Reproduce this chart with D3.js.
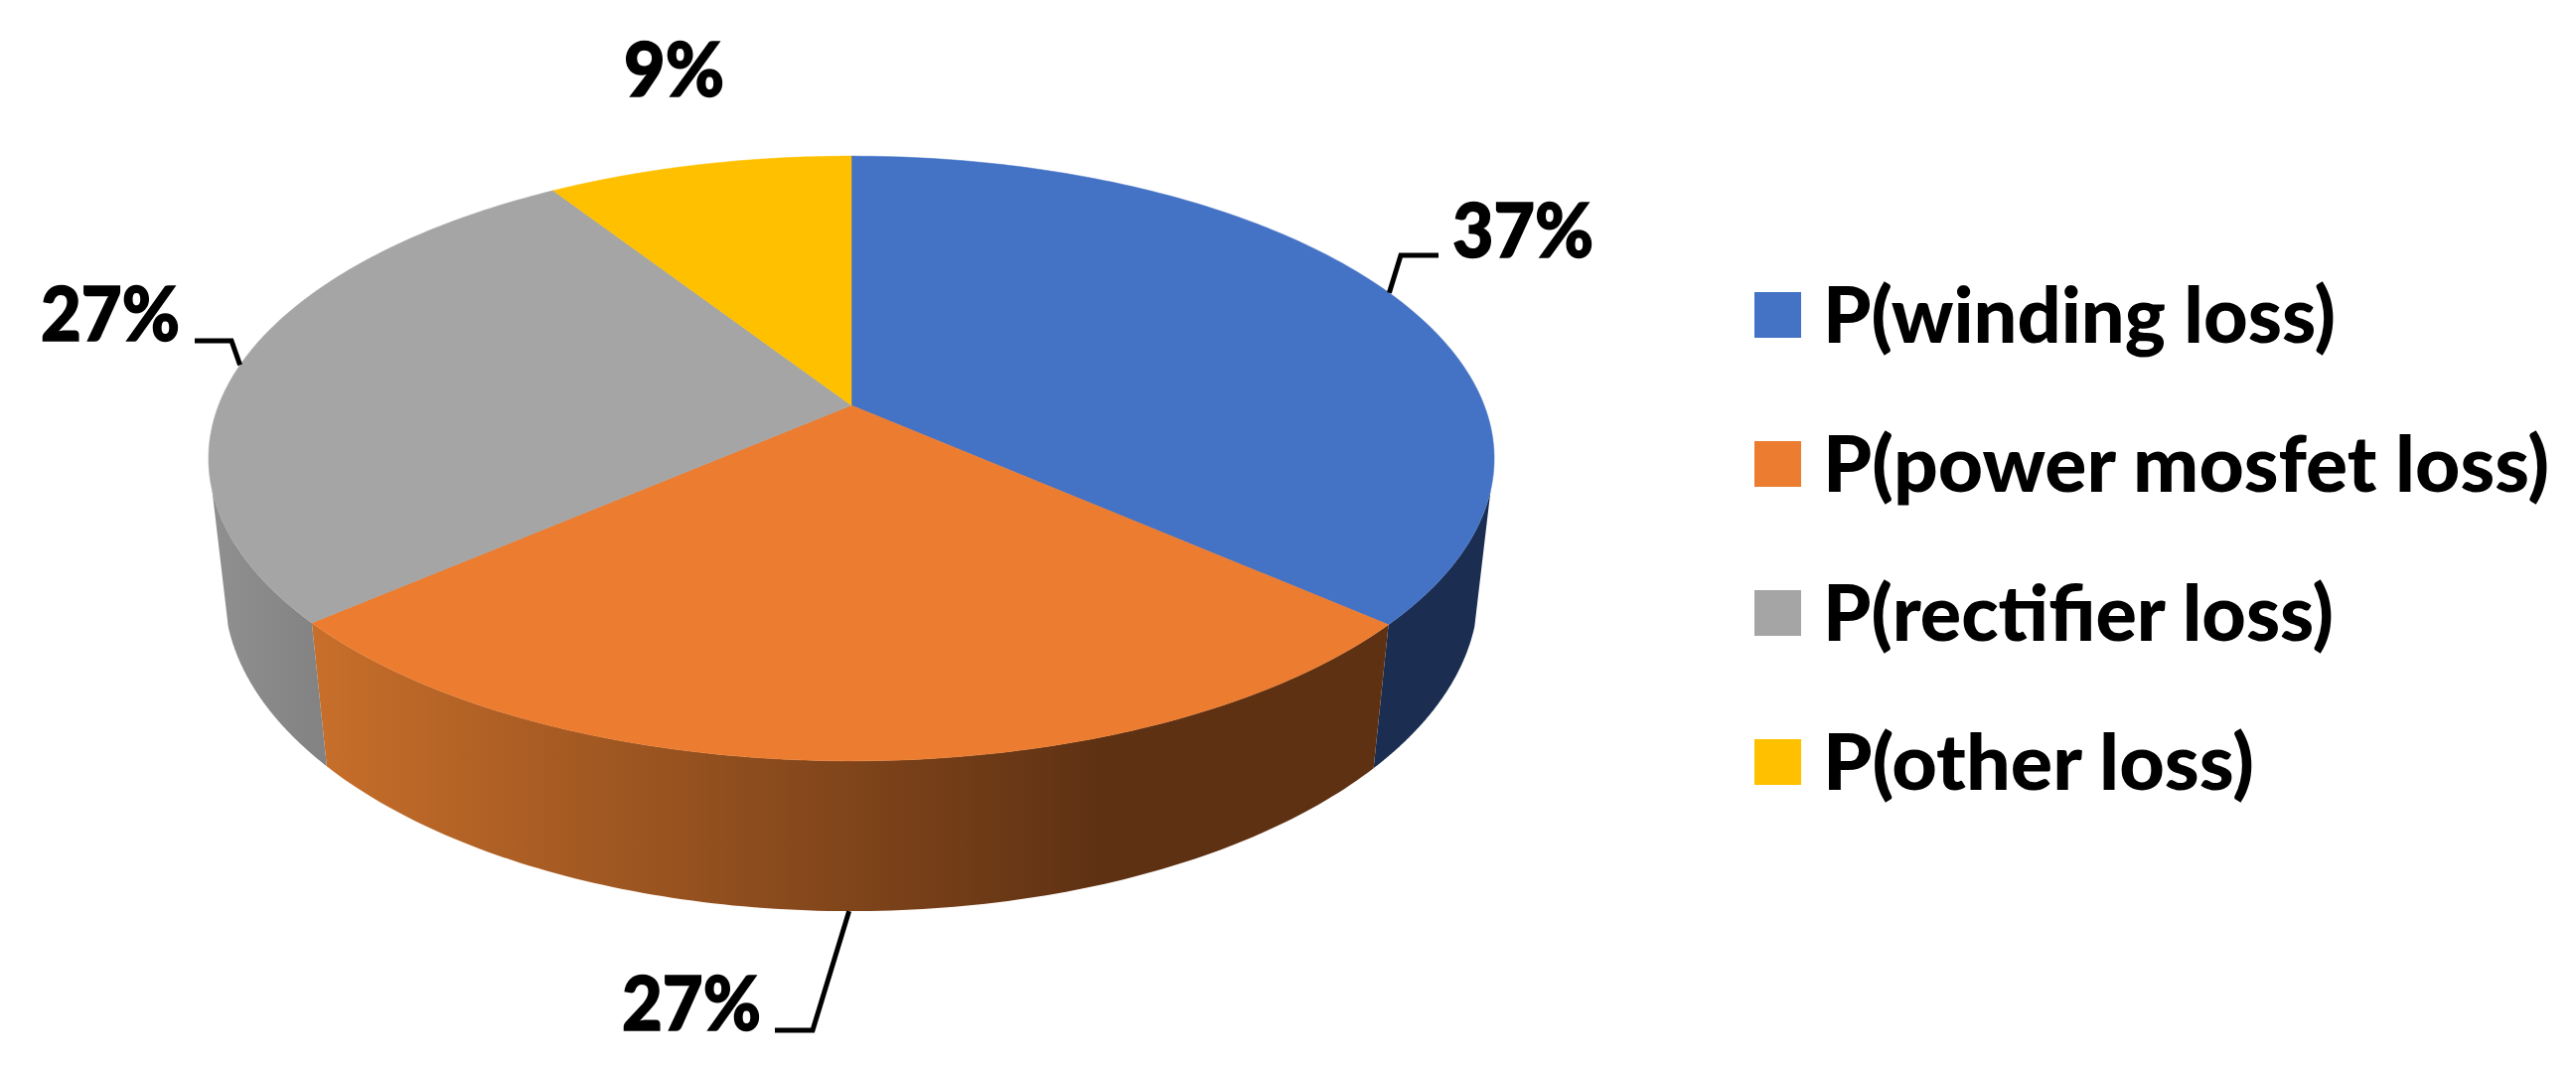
<!DOCTYPE html>
<html>
<head>
<meta charset="utf-8">
<script src="https://cdn.jsdelivr.net/npm/d3@7"></script>
<style>
  html, body { margin: 0; background: #fff; }
  text { font-family: Lato, sans-serif; font-weight: 900; fill: #000; }
</style>
</head>
<body>
<svg id="chart" width="2593" height="1080"></svg>
<script>
const categories = ['P(winding loss)', 'P(power mosfet loss)', 'P(rectifier loss)', 'P(other loss)'];
const shares = [36.5, 27.1, 27.3, 9.1];
const topColors = ['#4472c4', '#eb7c30', '#a5a5a5', '#ffc000'];

const svg = d3.select('#chart');

// perspective disc: angle is clockwise from the top of the pie
const discProjection = (cx, cy, a, b, p) => angle => {
  const u = Math.sin(angle), v = -Math.cos(angle), w = 1 - p * v;
  return [cx + a * u / w, cy + b * v / w];
};
const topDisc = discProjection(857, 408, 637, 295, 0.1757);
const bottomDisc = discProjection(857, 540, 622, 313, 0.17);

const arcPoints = (project, a0, a1) =>
  d3.range(0, 121).map(i => project(a0 + (a1 - a0) * i / 120));
const line = d3.line();

const slices = d3.pie().sort(null).value(d => d)(shares)
  .map((d, i) => ({ ...d, name: categories[i], color: topColors[i] }));

// shaded rim gradients
const defs = svg.append('defs');
const rimOrange = defs.append('linearGradient').attr('id', 'rimOrange')
  .attr('gradientUnits', 'userSpaceOnUse')
  .attr('x1', 320).attr('x2', 1110).attr('y1', 0).attr('y2', 0);
rimOrange.append('stop').attr('offset', 0).attr('stop-color', '#c76e2a');
rimOrange.append('stop').attr('offset', 1).attr('stop-color', '#5e3113');
const rimGray = defs.append('linearGradient').attr('id', 'rimGray')
  .attr('gradientUnits', 'userSpaceOnUse')
  .attr('x1', 210).attr('x2', 330).attr('y1', 0).attr('y2', 0);
rimGray.append('stop').attr('offset', 0).attr('stop-color', '#909090');
rimGray.append('stop').attr('offset', 1).attr('stop-color', '#828282');

// rim runs between the two silhouette tangents
const rimStart = 106 * Math.PI / 180, rimEnd = 254 * Math.PI / 180;
const rimFills = ['#1b2e51', 'url(#rimOrange)', 'url(#rimGray)', null];
const rim = svg.append('g');
slices.forEach((s, i) => {
  const a0 = Math.max(s.startAngle, rimStart), a1 = Math.min(s.endAngle, rimEnd);
  if (a1 <= a0 || !rimFills[i]) return;
  const pts = arcPoints(topDisc, a0, a1).concat(arcPoints(bottomDisc, a1, a0));
  rim.append('path').attr('d', line(pts) + 'Z').attr('fill', rimFills[i]);
});

// top face
svg.append('g').selectAll('path').data(slices).join('path')
  .attr('d', s => line([[857, 408]].concat(arcPoints(topDisc, s.startAngle, s.endAngle))) + 'Z')
  .attr('fill', d => d.color)
  .attr('stroke', d => d.color)
  .attr('stroke-width', 0.5);

// data labels, leader elbows and text placed per slice
const labelLayout = [
  { x: 1462, y: 259, w: 142, elbow: [1410, 257], end: [1448, 257], rimEdge: false },
  { x: 626, y: 1037, w: 140, elbow: [818, 1037], end: [780, 1037], rimEdge: true },
  { x: 41, y: 343, w: 140, elbow: [233, 343], end: [196, 343], rimEdge: false },
  { x: 628, y: 97, w: 101, elbow: null }
];
slices.forEach((s, i) => {
  const l = labelLayout[i];
  const mid = (s.startAngle + s.endAngle) / 2;
  if (l.elbow) {
    const from = (l.rimEdge ? bottomDisc : topDisc)(mid);
    svg.append('path').attr('d', line([from, l.elbow, l.end]))
      .attr('fill', 'none').attr('stroke', '#000').attr('stroke-width', 5);
  }
  svg.append('text').attr('x', l.x).attr('y', l.y)
    .attr('font-size', 76)
    .attr('stroke', '#000').attr('stroke-width', 1.5)
    .attr('textLength', l.w).attr('lengthAdjust', 'spacingAndGlyphs')
    .text(Math.round(s.data) + '%');
});

// legend
const legendY = d3.scalePoint().domain(categories).range([317, 767]);
const legendWidths = [516, 731, 514, 434];
const legend = svg.append('g').selectAll('g').data(slices).join('g')
  .attr('transform', d => `translate(0,${legendY(d.name)})`);
legend.append('rect').attr('x', 1766).attr('y', -23).attr('width', 47).attr('height', 46)
  .attr('fill', d => d.color);
legend.append('text').attr('x', 1835).attr('y', 28)
  .attr('font-size', 78).style('font-weight', 900)
  .attr('textLength', (d, i) => legendWidths[i]).attr('lengthAdjust', 'spacingAndGlyphs')
  .text(d => d.name);
</script>
</body>
</html>
